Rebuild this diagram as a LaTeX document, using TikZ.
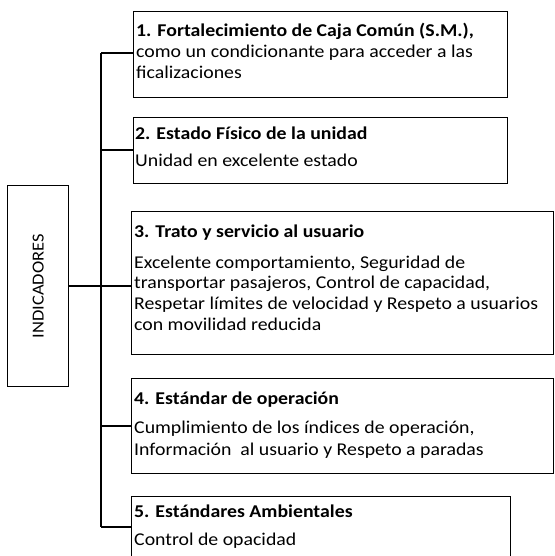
\documentclass[tikz,border=0pt]{standalone}
\usepackage{fontspec}
\setmainfont[FakeStretch=1.1]{Carlito}
\begin{document}
\begin{tikzpicture}[x=1pt,y=1pt,
  box/.style={draw=black, line width=1.3pt, rectangle, inner sep=0pt, anchor=north west},
  conn/.style={draw=black, line width=1.7pt},
  ttl/.style={anchor=base west, inner sep=0pt, font=\fontsize{18}{21}\selectfont\bfseries},
  txt/.style={anchor=base west, inner sep=0pt, font=\fontsize{18}{21}\selectfont}]
\useasboundingbox (0,0) rectangle (554,556);
\clip (0,0) rectangle (554,556);
% boxes
\node[box, minimum width=61, minimum height=201] (ind) at (7,371) {};
\node[rotate=90, font=\fontsize{16.8}{20}\selectfont, inner sep=0pt] (indt) at (ind.center) {INDICADORES};
\node[box, minimum width=374, minimum height=86] (b1) at (133,545) {};
\node[box, minimum width=374, minimum height=66] (b2) at (133,439) {};
\node[box, minimum width=422, minimum height=143] (b3) at (131,345) {};
\node[box, minimum width=422, minimum height=95] (b4) at (131,178) {};
\node[box, minimum width=379, minimum height=90] (b5) at (131,60) {};
% connectors
\coordinate (c1) at (101,503);
\coordinate (c2) at (101,406);
\coordinate (c4) at (101,130);
\coordinate (c5) at (101,29);
\draw[conn] (c1) -- (c5);
\draw[conn] (c1) -- (c1 -| b1.west);
\draw[conn] (c2) -- (c2 -| b2.west);
\draw[conn] (ind.east) -- (ind.east -| b3.west);
\draw[conn] (c4) -- (c4 -| b4.west);
\draw[conn] (c5) -- (c5 -| b5.west);
% texts
\node[ttl] (t1a) at (136,519) {1. Fortalecimiento de Caja Común (S.M.),};
\node[txt] (t1b) at (136,498) {como un condicionante para acceder a las};
\node[txt] (t1c) at (136,477) {ficalizaciones};
\node[ttl] (t2a) at (135,416) {2. Estado Físico de la unidad};
\node[txt] (t2b) at (135,389) {Unidad en excelente estado};
\node[ttl] (t3a) at (134,318) {3. Trato y servicio al usuario};
\node[txt] (t3b) at (134,287) {Excelente comportamiento, Seguridad de};
\node[txt] (t3c) at (134,267) {transportar pasajeros, Control de capacidad,};
\node[txt] (t3d) at (134,246) {Respetar límites de velocidad y Respeto a usuarios};
\node[txt] (t3e) at (134,225) {con movilidad reducida};
\node[ttl] (t4a) at (134,151) {4. Estándar de operación};
\node[txt] (t4b) at (134,122) {Cumplimiento de los índices de operación,};
\node[txt] (t4c) at (134,100) {Información\ \ al usuario y Respeto a paradas};
\node[ttl] (t5a) at (134,38) {5. Estándares Ambientales};
\node[txt] (t5b) at (134,10) {Control de opacidad};
\end{tikzpicture}
\end{document}
